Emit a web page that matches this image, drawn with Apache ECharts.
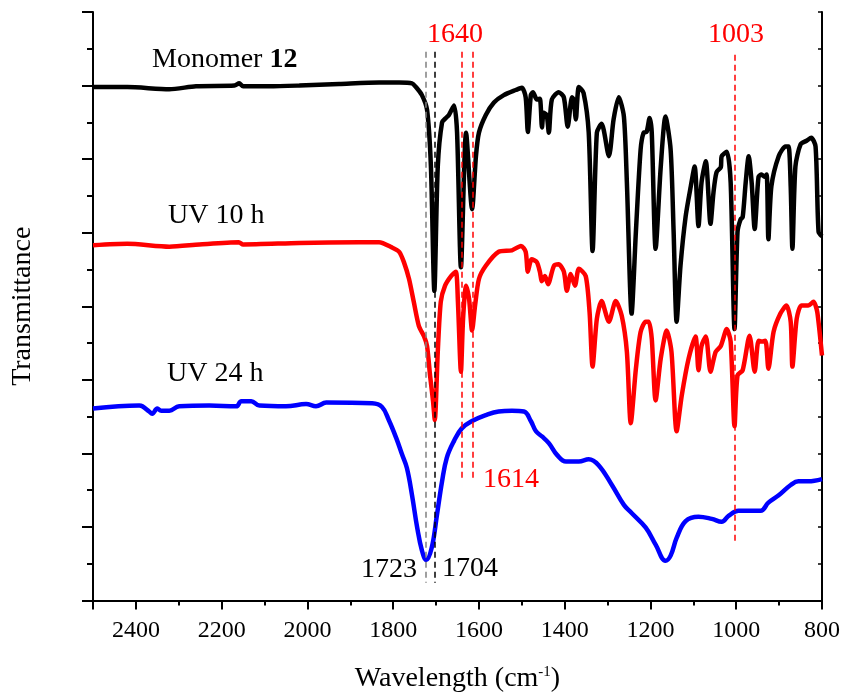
<!DOCTYPE html>
<html>
<head>
<meta charset="utf-8">
<title>FTIR</title>
<script src="https://cdn.jsdelivr.net/npm/echarts@6/dist/echarts.min.js"></script>
</head>
<body style="margin:0">
<div id="main" style="width:844px;height:698px;"></div>
<script>
// spectra: [wavenumber, offset transmittance]
var monomer = [
  [2500,6.98],[2420,6.98],[2322,6.95],[2260,6.99],[2170,7.0],[2159,7.03],[2150,6.99],[2089,6.99],[2019,7.0],[1926,7.02],
  [1833,7.04],[1786,7.04],[1756,7.03],[1747,6.98],[1733,6.87],[1721,6.67],[1712,5.90],[1704,4.21],[1696,5.90],[1686,6.50],
  [1677,6.56],[1670,6.60],[1658,6.73],[1651,6.36],[1642,4.53],[1630,6.36],[1616,5.32],[1607,6.04],[1600,6.36],[1584,6.60],
  [1565,6.77],[1542,6.87],[1514,6.94],[1500,6.97],[1491,6.84],[1486,6.37],[1479,6.87],[1474,6.91],[1465,6.81],[1458,6.82],
  [1453,6.43],[1449,6.63],[1442,6.60],[1437,6.36],[1430,6.81],[1414,6.91],[1402,6.84],[1393,6.44],[1383,6.84],[1379,6.81],
  [1374,6.54],[1367,6.98],[1356,6.90],[1344,6.36],[1335,4.75],[1325,6.36],[1314,6.48],[1297,6.04],[1286,6.54],[1274,6.84],
  [1262,6.58],[1255,5.68],[1244,3.90],[1234,5.01],[1223,6.13],[1216,6.36],[1209,6.37],[1202,6.56],[1197,6.36],[1188,4.78],
  [1176,5.90],[1165,6.58],[1153,6.13],[1146,5.01],[1139,3.79],[1130,4.55],[1118,5.22],[1106,5.63],[1097,5.90],[1088,5.09],
  [1081,5.68],[1071,5.97],[1060,5.12],[1053,5.55],[1046,5.82],[1036,5.89],[1034,6.04],[1022,6.10],[1013,5.68],[1004,3.69],
  [997,5.01],[990,5.18],[985,5.21],[978,5.68],[971,6.04],[964,5.68],[957,5.05],[948,5.76],[941,5.79],[934,5.76],
  [929,5.79],[925,4.91],[918,5.63],[901,6.04],[885,6.17],[878,6.17],[873,5.63],[869,4.78],[862,5.90],[850,6.20],
  [836,6.25],[825,6.29],[815,6.17],[808,5.01],[800,4.95]
];
var uv10 = [
  [2500,4.83],[2420,4.85],[2322,4.81],[2252,4.84],[2160,4.87],[2150,4.84],[2019,4.86],[1880,4.87],[1833,4.87],[1803,4.80],
  [1786,4.74],[1775,4.60],[1763,4.37],[1752,4.06],[1740,3.73],[1728,3.59],[1721,3.46],[1714,3.06],[1707,2.71],[1703,2.45],
  [1696,3.38],[1689,4.06],[1679,4.28],[1665,4.41],[1654,4.47],[1649,4.06],[1642,3.11],[1637,3.83],[1630,4.28],[1623,4.10],
  [1616,3.67],[1609,4.01],[1600,4.37],[1584,4.55],[1554,4.74],[1523,4.76],[1502,4.82],[1491,4.74],[1486,4.47],[1477,4.64],
  [1465,4.60],[1458,4.47],[1453,4.34],[1446,4.41],[1439,4.30],[1425,4.55],[1414,4.57],[1402,4.47],[1395,4.21],[1386,4.44],
  [1376,4.28],[1367,4.51],[1351,4.41],[1342,3.92],[1335,3.18],[1325,3.83],[1314,4.07],[1297,3.79],[1281,4.07],[1267,3.87],
  [1255,3.38],[1246,2.41],[1234,3.15],[1223,3.65],[1211,3.79],[1204,3.79],[1197,3.56],[1188,2.72],[1176,3.29],[1162,3.67],
  [1151,3.38],[1139,2.30],[1127,2.79],[1111,3.29],[1095,3.59],[1088,3.13],[1081,3.46],[1071,3.59],[1060,3.11],[1048,3.38],
  [1036,3.46],[1022,3.69],[1013,3.52],[1004,2.37],[997,3.06],[985,3.13],[969,3.60],[957,3.11],[948,3.53],[941,3.52],
  [932,3.53],[925,3.15],[913,3.65],[897,3.90],[883,4.01],[873,3.79],[869,3.18],[859,3.83],[848,4.01],[832,4.01],
  [820,4.06],[811,3.92],[800,3.33]
];
var uv24 = [
  [2500,2.61],[2392,2.65],[2385,2.64],[2369,2.57],[2362,2.54],[2350,2.61],[2341,2.58],[2322,2.58],[2299,2.64],[2229,2.65],
  [2166,2.64],[2154,2.71],[2131,2.71],[2112,2.65],[2050,2.64],[2003,2.67],[1980,2.64],[1956,2.69],[1849,2.68],[1826,2.63],
  [1810,2.45],[1793,2.21],[1779,1.98],[1768,1.80],[1756,1.43],[1744,0.99],[1733,0.68],[1723,0.55],[1710,0.72],[1698,1.16],
  [1686,1.62],[1675,1.94],[1658,2.17],[1640,2.34],[1616,2.44],[1584,2.52],[1554,2.57],[1523,2.58],[1495,2.57],[1479,2.44],
  [1467,2.30],[1453,2.23],[1437,2.14],[1418,1.98],[1397,1.89],[1367,1.89],[1344,1.92],[1321,1.84],[1290,1.57],[1262,1.30],
  [1244,1.19],[1211,0.99],[1188,0.76],[1165,0.54],[1153,0.61],[1139,0.85],[1118,1.08],[1088,1.14],[1057,1.11],[1034,1.07],
  [1018,1.15],[995,1.22],[971,1.22],[943,1.22],[925,1.33],[901,1.43],[873,1.57],[855,1.62],[832,1.62],[800,1.65]
];

// dashed peak guides: [wavenumber, top, bottom]
var greyPeaks = [[1723, 7.46, 0.24]];
var blackPeaks = [[1704, 7.46, 0.24]];
var redPeaks = [[1640, 7.46, 1.62], [1614, 7.46, 1.62], [1003, 7.42, 0.76]];

var serif = "'Liberation Serif', 'Times New Roman', serif";

function guide(p, color) {
  return [{ coord: [p[0], p[1]], lineStyle: { color: color } }, { coord: [p[0], p[2]] }];
}
var guides = []
  .concat(greyPeaks.map(function (p) { return guide(p, '#808080'); }))
  .concat(blackPeaks.map(function (p) { return guide(p, '#000000'); }))
  .concat(redPeaks.map(function (p) { return guide(p, '#ff0000'); }));

function txt(x, y, text, color, rich) {
  return {
    type: 'text', left: x, top: y,
    style: {
      text: text, fill: color || '#000', font: '28px ' + serif,
      rich: rich
    }
  };
}

var chart = echarts.init(document.getElementById('main'));
var axisLine = { show: true, lineStyle: { color: '#000', width: 2 } };

var option = {
  animation: false,
  backgroundColor: '#fff',
  grid: { left: 93, right: 22, top: 12, bottom: 96 },
  xAxis: [{
    type: 'value', inverse: true, min: 800, max: 2500, interval: 200,
    position: 'bottom',
    name: 'Wavelength (cm{sup|-1})',
    nameLocation: 'middle', nameGap: 64,
    nameTextStyle: {
      color: '#000', fontFamily: serif, fontSize: 28,
      rich: { sup: { fontSize: 15, fontFamily: serif, color: '#000', verticalAlign: 'top', padding: [0, 0, 14, 0] } }
    },
    axisLine: axisLine,
    axisTick: { show: true, inside: false, length: 9, lineStyle: { width: 2, color: '#000' } },
    minorTick: { show: true, splitNumber: 2, length: 5, lineStyle: { width: 2, color: '#000' } },
    axisLabel: {
      color: '#000', fontFamily: serif, fontSize: 24, margin: 18,
      formatter: function (v) { return String(v); }
    },
    splitLine: { show: false }
  }, {
    type: 'value', inverse: true, min: 800, max: 2500, interval: 200,
    position: 'top',
    axisLine: axisLine,
    axisTick: { show: true, inside: true, length: 4, lineStyle: { width: 1, color: '#000' } },
    minorTick: { show: false },
    axisLabel: { show: false },
    splitLine: { show: false }
  }],
  yAxis: [{
    type: 'value', min: 0, max: 8, interval: 1,
    position: 'left',
    name: 'Transmittance',
    nameLocation: 'middle', nameGap: 56,
    nameTextStyle: { color: '#000', fontFamily: serif, fontSize: 28 },
    axisLine: axisLine,
    axisTick: { show: true, inside: false, length: 11, lineStyle: { width: 2, color: '#000' } },
    minorTick: { show: true, splitNumber: 2, length: 6, lineStyle: { width: 2, color: '#000' } },
    axisLabel: { show: false },
    splitLine: { show: false }
  }, {
    type: 'value', min: 0, max: 8, interval: 1,
    position: 'right',
    axisLine: axisLine,
    axisTick: { show: true, inside: true, length: 4, lineStyle: { width: 1.5, color: '#000' } },
    minorTick: { show: true, splitNumber: 2, length: 4, lineStyle: { width: 1.5, color: '#000' } },
    axisLabel: { show: false },
    splitLine: { show: false }
  }],
  series: [{
    name: 'Monomer 12', type: 'line', data: monomer, showSymbol: false, smooth: 0.25,
    lineStyle: { color: '#000', width: 4.5 }, z: 3
  }, {
    name: 'UV 10 h', type: 'line', data: uv10, showSymbol: false, smooth: 0.25,
    lineStyle: { color: '#ff0000', width: 4.5 }, z: 3
  }, {
    name: 'UV 24 h', type: 'line', data: uv24, showSymbol: false, smooth: 0.4,
    lineStyle: { color: '#0000ff', width: 4.5 }, z: 3,
    markLine: {
      silent: true, symbol: 'none', label: { show: false },
      lineStyle: { type: [6, 4], width: 1.5 },
      data: guides
    }
  }],
  graphic: [
    txt(152, 46, '{n|Monomer }{b|12}', '#000', {
      n: { fontFamily: serif, fontSize: 28, color: '#000' },
      b: { fontFamily: serif, fontSize: 28, fontWeight: 'bold', color: '#000' }
    }),
    txt(168, 202, 'UV 10 h'),
    txt(167, 360, 'UV 24 h'),
    txt(361, 556, '1723'),
    txt(442, 555, '1704'),
    txt(427, 21, '1640', '#ff0000'),
    txt(708, 21, '1003', '#ff0000'),
    txt(483, 466, '1614', '#ff0000')
  ]
};
chart.setOption(option);
</script>
</body>
</html>
